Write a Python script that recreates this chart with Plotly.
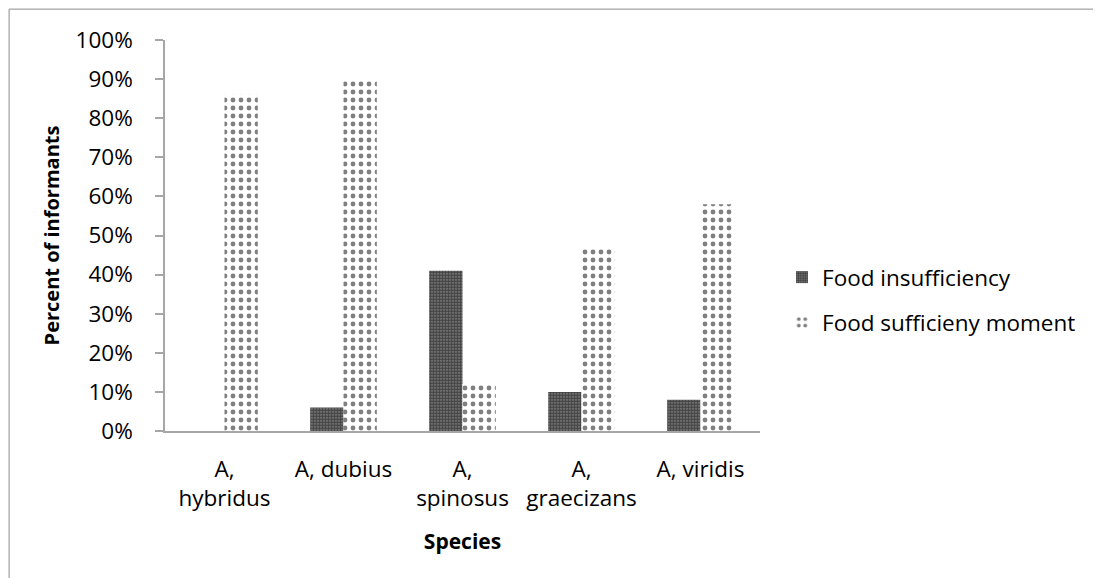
import plotly.graph_objects as go

species = ["A,<br>hybridus", "A, dubius", "A,<br>spinosus", "A,<br>graecizans", "A, viridis"]
food_insufficiency = [0, 6, 41, 10, 8]
food_sufficiency = [86, 90, 12, 47, 58]
y_ticks = [0, 10, 20, 30, 40, 50, 60, 70, 80, 90, 100]
y_tick_labels = [f"{v}%" for v in y_ticks]

FONT = "'Open Sans', sans-serif"
FS = 22.5

fig = go.Figure()
fig.add_trace(go.Bar(
    x=species, y=food_insufficiency, name="Food insufficiency", legendgroup="a",
    marker=dict(color="white", line=dict(width=0),
                pattern=dict(shape=".", fgcolor="#000000", bgcolor="#8a8a8a", size=3, solidity=0.75)),
))
fig.add_trace(go.Bar(
    x=species, y=food_sufficiency, name="Food sufficieny moment", legendgroup="b",
    marker=dict(color="white", line=dict(width=0),
                pattern=dict(shape=".", fgcolor="black", bgcolor="white", size=8, solidity=0.28)),
))

fig.update_layout(
    width=1093, height=570,
    margin=dict(l=157, r=341, t=32, b=147),
    paper_bgcolor="white", plot_bgcolor="white",
    barmode="group", bargap=0.44, bargroupgap=0,
    font=dict(family=FONT, size=FS, color="black"),
    showlegend=True,
    legend=dict(x=1.037, y=0.4476, xanchor="left", yanchor="top",
                font=dict(size=FS), itemwidth=30, tracegroupgap=13,
                traceorder="grouped", bgcolor="rgba(0,0,0,0)"),
    shapes=[dict(type="rect", xref="paper", yref="paper",
                 x0=-0.262, x1=1.6, y0=-0.4, y1=1.079,
                 line=dict(color="#8c8c8c", width=1), layer="below")],
)
fig.update_xaxes(
    showline=True, linecolor="#a6a6a6", linewidth=1.5,
    ticks="", showgrid=False,
    title=dict(text="<b>Species</b>", font=dict(size=21), standoff=22),
    tickfont=dict(size=FS), ticklabelstandoff=17,
)
fig.update_yaxes(
    range=[0, 100], tickvals=y_ticks, ticktext=y_tick_labels,
    showline=True, linecolor="#a6a6a6", linewidth=1.5,
    ticks="outside", ticklen=8, tickcolor="#a6a6a6", tickwidth=1.5,
    showgrid=False, zeroline=False,
    title=dict(text="<b>Percent of informants</b>", font=dict(size=20), standoff=11),
    tickfont=dict(size=FS), ticklabelstandoff=18,
)

fig.write_html("out.html")
